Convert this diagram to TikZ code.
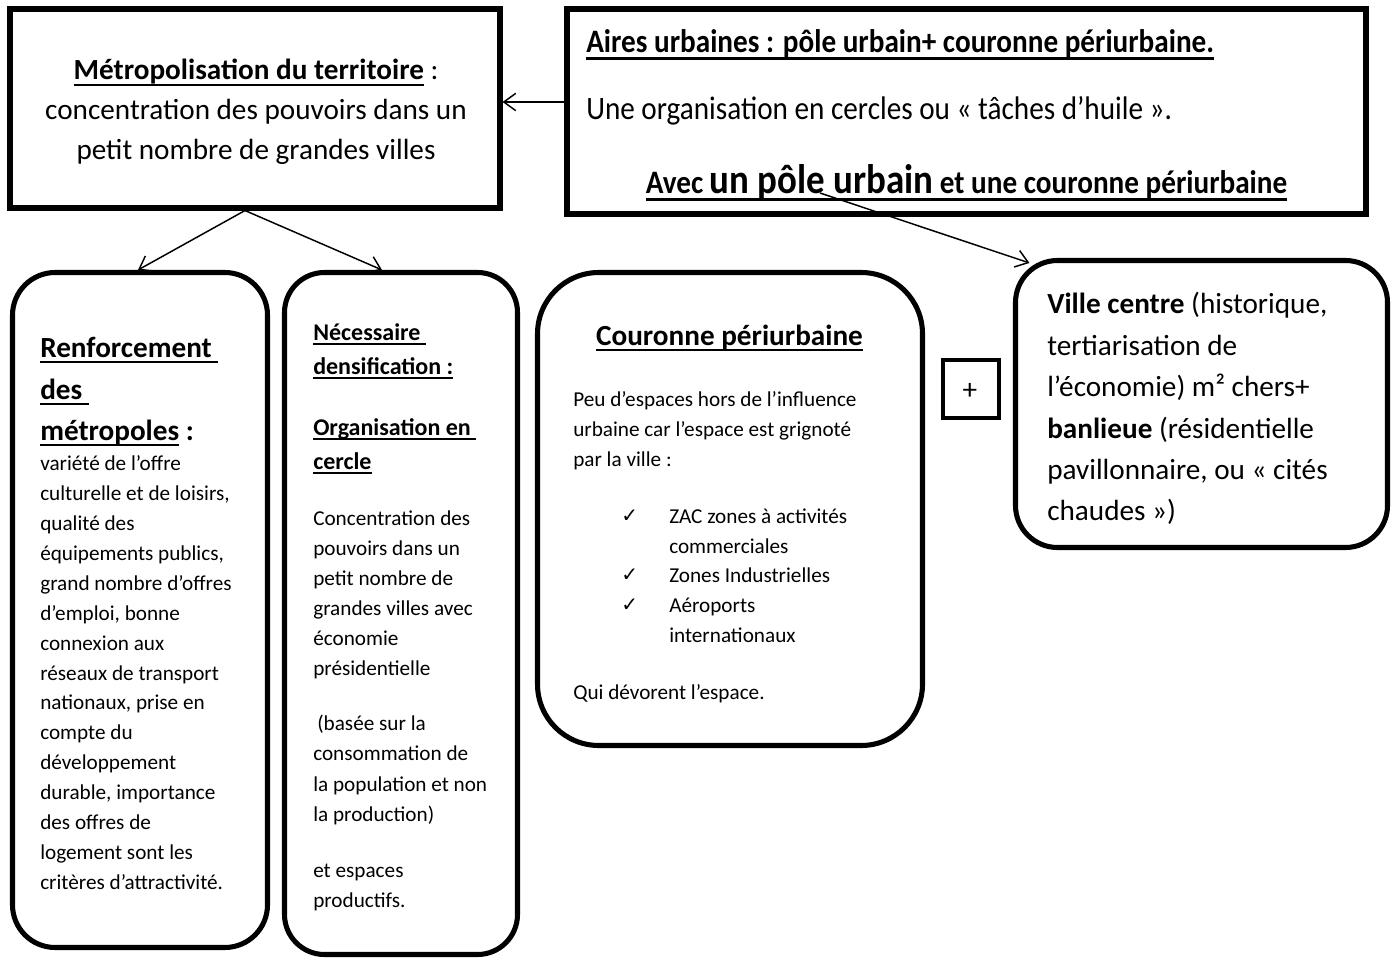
\documentclass[tikz,border=0pt]{standalone}
\usepackage{fontspec}
\setmainfont{Carlito}
\newfontfamily\symfont{DejaVu Sans}
\usepackage{graphicx}
\usetikzlibrary{arrows.meta,fit,calc}
\newlength\uldp \newlength\ulth
\setlength\uldp{3pt}\setlength\ulth{1.4pt}
\newsavebox\ulbox
\newcommand\uln[1]{\sbox\ulbox{#1}\leavevmode\rlap{\vrule height -\uldp depth \dimexpr\uldp+\ulth\relax width \wd\ulbox}\usebox\ulbox}
\newcommand\fsm{\fontsize{15.9pt}{22pt}\selectfont}
\newcommand\fbg{\fontsize{21.9pt}{30pt}\selectfont}
\newcommand\fmd{\fontsize{18pt}{24pt}\selectfont}
\newcommand\fhg{\fontsize{27.7pt}{34pt}\selectfont}
\newcommand\vst[1]{\scalebox{1}[1.12]{#1}}
\begin{document}
\begin{tikzpicture}[x=0.75pt,y=-0.75pt,
  frame/.style={draw, line width=3.8pt, inner sep=0pt},
  rbox/.style={frame, rounded corners=#1},
  tx/.style={inner sep=0pt, anchor=base west},
  tc/.style={inner sep=0pt, anchor=base},
  arr/.style={line width=1.1pt, -{Straight Barb[length=9pt,width=13pt,line width=1.1pt]}}]
\useasboundingbox[fill=white] (0,0) rectangle (1399,959);

% boxes
\node[frame, fit={(10,9) (500,208)}] (b1) {};
\node[frame, fit={(567,9) (1366,214)}] (b2) {};
\node[rbox=32pt, fit={(12.5,272.5) (267.5,947.5)}] (rA) {};
\node[rbox=30pt, fit={(284.5,272.5) (517.5,954.5)}] (rB) {};
\node[rbox=46pt, fit={(537.5,272.5) (922.5,745.5)}] (rC) {};
\node[rbox=31.5pt, fit={(1015.5,260.5) (1387.5,547.5)}] (rD) {};
\node[frame, line width=3pt, fit={(943,360) (999,418)}] (plus) {};
\node[tc] (plustxt) at (970,399) {\fbg +};

% box 1
\node[tc] (t1a) at (256,80) {\fbg{\bfseries\uln{Métropolisation du territoire}} :};
\node[tc] (t1b) at (256,120) {\fbg concentration des pouvoirs dans un};
\node[tc] (t1c) at (256,160) {\fbg petit nombre de grandes villes};

% box 2
\node[tx] (t2a) at (586,53) {\vst{\fbg\bfseries\uln{Aires urbaines : pôle urbain+ couronne périurbaine.}}};
\node[tx] (t2b) at (586,120) {\vst{\fbg Une organisation en cercles ou « tâches d’huile ».}};
\node[tc] (t2c) at (966.5,194) {\vst{\bfseries{\fbg\uln{Avec~}}{\fhg\uln{un pôle urbain}}{\fbg\uln{~et une couronne périurbaine}}}};

% box A
\node[tx] (tah1) at (40,357) {\fbg\bfseries\uln{Renforcement~}};
\node[tx] (tah2) at (40,399) {\fbg\bfseries\uln{des~}};
\node[tx] (tah3) at (40,440) {\fbg\bfseries\uln{métropoles} :};
\foreach \yy/\txt [count=\i] in {468/{variété de l’offre}, 498/{culturelle et de loisirs,}, 528/{qualité des}, 558/{équipements publics,}, 588/{grand nombre d’offres}, 618/{d’emploi, bonne}, 648/{connexion aux}, 678/{réseaux de transport}, 707/{nationaux, prise en}, 737/{compte du}, 767/{développement}, 797/{durable, importance}, 827/{des offres de}, 857/{logement sont les}, 887/{critères d’attractivité.}}
  \node[tx] (ta\i) at (40,\yy+2) {\fsm\txt};

% box B
\setlength\uldp{2.6pt}\setlength\ulth{1.2pt}
\node[tx] (tbh1) at (313,340) {\fmd\bfseries\uln{Nécessaire~}};
\node[tx] (tbh2) at (313,374) {\fmd\bfseries\uln{densification :}};
\node[tx] (tbh3) at (313,435) {\fmd\bfseries\uln{Organisation en~}};
\node[tx] (tbh4) at (313,469) {\fmd\bfseries\uln{cercle}};
\setlength\uldp{3pt}\setlength\ulth{1.4pt}
\foreach \yy/\txt [count=\i] in {523/{Concentration des}, 553/{pouvoirs dans un}, 583/{petit nombre de}, 613/{grandes villes avec}, 643/{économie}, 673/{présidentielle}, 758/{consommation de}, 789/{la population et non}, 819/{la production)}, 875/{et espaces}, 905/{productifs.}}
  \node[tx] (tb\i) at (313,\yy+2) {\fsm\txt};
\node[tx] (tbx) at (317,730) {\fsm(basée sur la};

% box C
\node[tc] (tch) at (729.5,345) {\fbg\bfseries\uln{Couronne périurbaine}};
\foreach \yy/\txt [count=\i] in {403/{Peu d’espaces hors de l’influence}, 433/{urbaine car l’espace est grignoté}, 463/{par la ville :}, 696/{Qui dévorent l’espace.}}
  \node[tx] (tc\i) at (573,\yy+3) {\fsm\txt};
\foreach \yy/\txt [count=\i] in {520/{ZAC zones à activités}, 550/{commerciales}, 579/{Zones Industrielles}, 609/{Aéroports}, 639/{internationaux}}
  \node[tx] (tci\i) at (669,\yy+3) {\fsm\txt};
\foreach \yy [count=\i] in {520,579,609}
  \node[tx] (ck\i) at (621,\yy+2) {\symfont\fontsize{15pt}{17pt}\selectfont ✓};

% box D
\foreach \yy/\txt [count=\i] in {309/{{\bfseries Ville centre} (historique,}, 351/{tertiarisation de}, 392/{l’économie) m² chers+}, 434/{{\bfseries banlieue} (résidentielle}, 475/{pavillonnaire, ou « cités}, 516/{chaudes »)}}
  \node[tx] (td\i) at (1047,\yy+4) {\fbg\txt};

% connectors
\coordinate (pole) at (820,193);
\draw[arr] (b2.west |- 0,102) -- (b1.east |- 0,102);
\draw[arr] (b1.south -| 245,0) -- (rA.north -| 138,0);
\draw[arr] (b1.south -| 245,0) -- (rB.north -| 382,0);
\draw[arr] (pole) -- ($(rD.north west)+(16.5,5)$);
\end{tikzpicture}
\end{document}
